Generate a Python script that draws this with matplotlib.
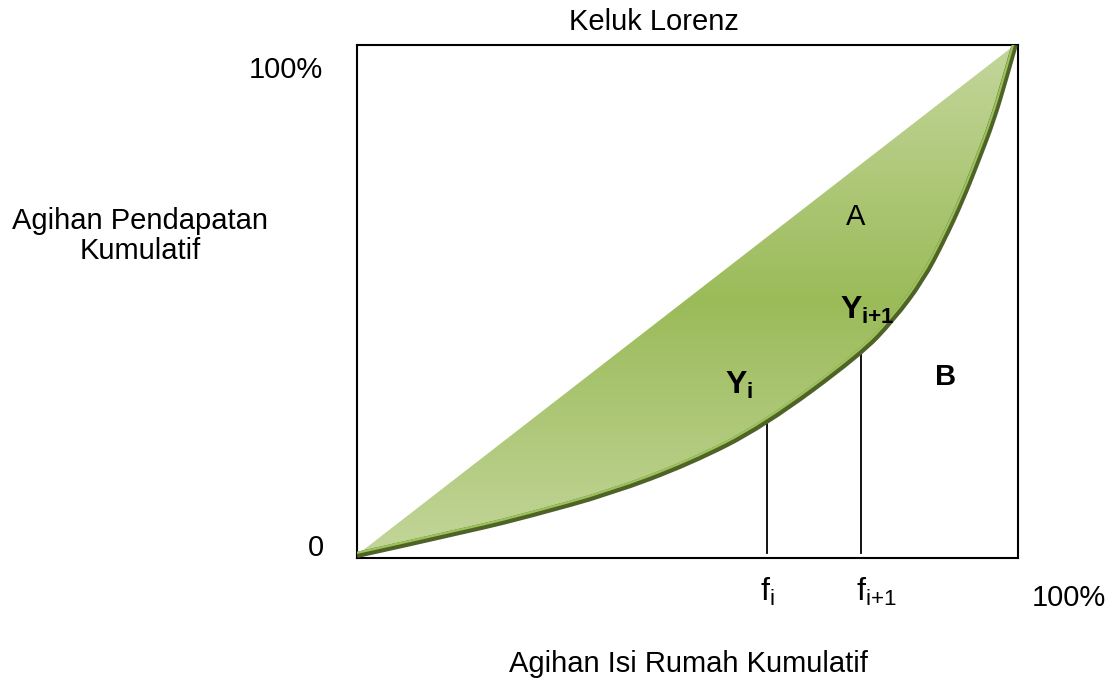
import numpy as np
import matplotlib
matplotlib.use("Agg")
import matplotlib.pyplot as plt
from matplotlib.colors import LinearSegmentedColormap
from matplotlib.patches import PathPatch
from matplotlib.path import Path
import matplotlib.transforms as mtransforms

plt.rcParams['font.family'] = ['Liberation Sans', 'DejaVu Sans']
plt.rcParams['mathtext.fontset'] = 'custom'
plt.rcParams['mathtext.rm'] = 'Liberation Sans'
plt.rcParams['mathtext.bf'] = 'Liberation Sans:bold'

# keluk Lorenz (bacaan dari gambar)
lorenz_x = [0.0, 0.182, 0.262, 0.383, 0.504, 0.614, 0.761, 0.811, 0.855, 0.887, 0.915, 0.939, 0.962, 0.980, 0.995]
lorenz_y = [0.006, 0.058, 0.084, 0.127, 0.186, 0.258, 0.398, 0.466, 0.542, 0.620, 0.698, 0.776, 0.854, 0.932, 1.0]
# garis kesamaan
equal_x = [0.0, 0.995]
equal_y = [0.006, 1.0]
# kedudukan f_i dan f_i+1
f_pos = [0.620, 0.762]


def smooth_path(xs, ys):
    # laluan licin (bezier kuadratik) melalui titik-titik keluk
    pts = list(zip(xs, ys))
    verts = [pts[0]]
    codes = [Path.MOVETO]
    for i in range(1, len(pts) - 2):
        mid = ((pts[i][0] + pts[i + 1][0]) / 2, (pts[i][1] + pts[i + 1][1]) / 2)
        verts += [pts[i], mid]
        codes += [Path.CURVE3, Path.CURVE3]
    verts += [pts[-2], pts[-1]]
    codes += [Path.CURVE3, Path.CURVE3]
    return verts, codes


W, H = 1113, 684
fig = plt.figure(figsize=(W / 100, H / 100), dpi=100)
ax = fig.add_axes([357 / W, 1 - 558 / H, 661 / W, 513 / H])
ax.set_xlim(0, 1)
ax.set_ylim(0, 1)
ax.set_xticks([])
ax.set_yticks([])
for s in ax.spines.values():
    s.set_linewidth(1.5)
    s.set_color('black')

cv, cc = smooth_path(lorenz_x, lorenz_y)

# kawasan A dengan kecerunan warna
fill_verts = [(equal_x[0], equal_y[0]), (equal_x[1], equal_y[1])]
fill_codes = [Path.MOVETO, Path.LINETO]
rv = cv[::-1]
fill_verts += rv[1:]
fill_codes += [Path.CURVE3] * (len(rv) - 1)
fill_verts.append(fill_verts[0])
fill_codes.append(Path.CLOSEPOLY)
poly = PathPatch(Path(fill_verts, fill_codes), facecolor='none', edgecolor='none')
ax.add_patch(poly)
cmap = LinearSegmentedColormap.from_list('g', ['#c3d69b', '#9bbb59', '#c3d69b'])
grad = np.linspace(0, 1, 256).reshape(-1, 1)
im = ax.imshow(grad, extent=[0, 1, 0, 1], origin='lower', cmap=cmap,
               aspect='auto', zorder=1)
im.set_clip_path(poly)

# garis keluk (bayang gelap + sorotan cerah)
ax.add_patch(PathPatch(Path(cv, cc), facecolor='none', edgecolor='#4f6228',
                       lw=4.5, capstyle='butt', zorder=3))
shift = mtransforms.offset_copy(ax.transData, fig=fig, x=-1.3, y=1.8, units='dots')
ax.add_patch(PathPatch(Path(cv, cc), facecolor='none', edgecolor='#9cc35a',
                       lw=1.6, transform=shift, zorder=4))

# garis tegak f_i
for fx in f_pos:
    fy = np.interp(fx, lorenz_x, lorenz_y)
    ax.plot([fx, fx], [0.01, fy], color='black', lw=1.3, zorder=2)

fs = 21
fig.text(654 / W, 1 - 22 / H, 'Keluk Lorenz', ha='center', va='center', fontsize=fs)
fig.text(140 / W, 1 - 236 / H, 'Agihan Pendapatan\nKumulatif', ha='center', va='center',
         fontsize=fs, linespacing=1.08)
fig.text(323 / W, 1 - 70 / H, '100%', ha='right', va='center', fontsize=fs)
fig.text(324 / W, 1 - 548 / H, '0', ha='right', va='center', fontsize=fs)
fig.text(1069 / W, 1 - 598 / H, '100%', ha='center', va='center', fontsize=fs)
fig.text(688 / W, 1 - 664 / H, 'Agihan Isi Rumah Kumulatif', ha='center', va='center', fontsize=fs)
fig.text(767 / W, 1 - 592 / H, r'$\mathrm{f_{i}}$', ha='center', va='center', fontsize=fs + 2)
fig.text(876 / W, 1 - 592 / H, r'$\mathrm{f_{i{+}1}}$', ha='center', va='center', fontsize=fs + 2)

fig.text(856 / W, 1 - 217 / H, 'A', ha='center', va='center', fontsize=fs)
fig.text(739 / W, 1 - 385 / H, r'$\mathbf{Y_{i}}$', ha='center', va='center', fontsize=fs + 2)
fig.text(867 / W, 1 - 310 / H, r'$\mathbf{Y_{i{+}1}}$', ha='center', va='center', fontsize=fs + 2)
fig.text(946 / W, 1 - 377 / H, 'B', ha='center', va='center', fontsize=fs, fontweight='bold')

plt.savefig('out.png', dpi=100)
